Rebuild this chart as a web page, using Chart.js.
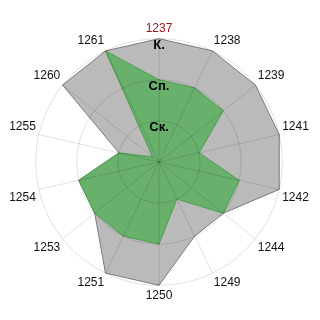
<!DOCTYPE html>
<html>
<head>
<meta charset="utf-8">
<script src="https://cdn.jsdelivr.net/npm/chart.js@4/dist/chart.umd.min.js"></script>
<style>
  html, body { margin: 0; padding: 0; background: #fff; }
  #wrap { width: 320px; height: 320px; }
</style>
</head>
<body>
<div id="wrap"><canvas id="radar"></canvas></div>
<script>
var labels = ['1237', '1238', '1239', '1241', '1242', '1244', '1249', '1250', '1251', '1253', '1254', '1255', '1260', '1261'];
var greyValues = [3, 3, 3, 3, 3, 2, 2, 3, 3, 2, 2, 1, 3, 3];
var greenValues = [2, 2, 2, 1, 2, 2, 1, 2, 2, 2, 2, 1, 0.2, 3];
var levelNames = ['', 'Ск.', 'Сп.', 'К.'];

window.addEventListener('load', function () {
  var ctx = document.getElementById('radar').getContext('2d');
  var labelColors = labels.map(function (l, i) {
    return i === 0 ? '#991414' : '#111';
  });

  new Chart(ctx, {
    type: 'radar',
    data: {
      labels: labels,
      datasets: [{
        label: 'grey',
        data: greyValues,
        order: 1,
        backgroundColor: 'rgb(186,186,186)',
        borderColor: '#7a7a7a',
        borderWidth: 1,
        pointRadius: 0
      }, {
        label: 'green',
        data: greenValues,
        order: 0, // drawn on top of the grey one
        backgroundColor: 'rgb(104,176,108)',
        borderColor: '#4aa04a',
        borderWidth: 1,
        pointRadius: 0
      }]
    },
    options: {
      responsive: true,
      maintainAspectRatio: false,
      animation: false,
      layout: { padding: { top: 21, bottom: 16, left: 9, right: 10 } },
      plugins: {
        legend: { display: false },
        tooltip: { enabled: false }
      },
      elements: { line: { tension: 0 } },
      scales: {
        r: {
          min: 0,
          max: 3,
          ticks: {
            z: 2,
            stepSize: 1,
            color: '#000',
            showLabelBackdrop: false,
            backdropPadding: 0,
            font: { family: 'Arial, "Liberation Sans"', size: 13, weight: 'bold', lineHeight: '7px' },
            // empty first line pushes the name a little below its ring
            callback: function (v) { return ['', levelNames[v] || '']; }
          },
          grid: { z: 1, circular: true, color: 'rgba(0,0,0,0.12)' },
          angleLines: { color: 'rgba(0,0,0,0.12)' },
          pointLabels: {
            color: labelColors,
            padding: -3.5,
            font: { family: 'Arial, "Liberation Sans"', size: 12 }
          }
        }
      }
    }
  });
});
</script>
</body>
</html>
